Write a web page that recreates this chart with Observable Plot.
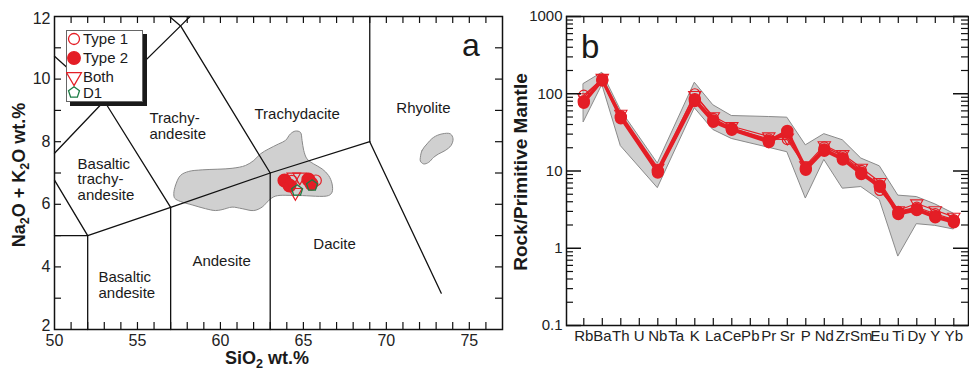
<!DOCTYPE html>
<html><head><meta charset="utf-8">
<script src="https://cdn.jsdelivr.net/npm/d3@7"></script>
<script src="https://cdn.jsdelivr.net/npm/@observablehq/plot@0.6"></script>
<style>
html,body{margin:0;padding:0;background:#fff;}
#wrap{position:relative;width:969px;height:375px;overflow:hidden;font-family:"Liberation Sans",Arial,Helvetica,sans-serif;color:#1a1a1a;}
.abs{position:absolute;white-space:nowrap;}
.lab{font-weight:bold;font-size:18px;line-height:20px;}
.lab sub{font-size:70%;vertical-align:baseline;position:relative;top:0.35em;}
</style></head><body><div id="wrap"></div>
<script>
// ================= Panel a : TAS diagram data =================
const sio2Ticks = [50, 55, 60, 65, 70, 75];
const alkaliTicks = [2, 4, 6, 8, 10, 12];

const type1Si = [64.3, 65.75];
const type1Alk = [6.75, 6.76];
const type2Si = [63.86, 64.16, 65.3, 65.48];
const type2Alk = [6.76, 6.6, 6.79, 6.66];
const bothSi = [64.42, 64.78, 64.52];
const bothAlk = [6.87, 6.87, 6.38];
const d1Si = [64.62, 65.52];
const d1Alk = [6.44, 6.6];

const fieldMainSi = [57.19,57.29,57.59,58.09,58.90,60.70,61.51,62.01,62.41,62.91,63.51,63.92,64.22,64.52,64.82,64.92,65.02,65.22,65.62,66.13,66.52,66.73,66.73,66.52,64.72,63.31,62.91,62.51,62.01,61.31,60.70,60.10,59.70,59.10,58.30,57.59,57.25];
const fieldMainAlk = [6.34,6.60,6.92,7.05,7.10,7.15,7.24,7.40,7.61,7.77,7.93,8.04,8.25,8.34,8.30,8.04,7.72,7.45,7.29,7.13,6.92,6.65,6.39,6.28,6.28,6.26,6.12,5.91,5.80,5.86,5.91,5.83,5.80,5.86,5.98,6.09,6.19];
const fieldRhySi = [72.05,72.15,72.45,72.85,73.36,73.86,74.02,73.90,73.55,73.15,72.85,72.55,72.25,72.05];
const fieldRhyAlk = [7.50,7.72,7.93,8.14,8.25,8.25,8.09,7.88,7.72,7.61,7.50,7.34,7.29,7.38];

// classification boundaries (SiO2, Na2O+K2O) per polyline
const boundaryLines = [
  [[50, 5], [52, 5]],
  [[52, 2], [52, 5]],
  [[57, 2], [57, 5.9]],
  [[63, 2], [63, 7]],
  [[52, 5], [57, 5.9], [63, 7], [69, 8]],
  [[69, 8], [69, 12]],
  [[69, 8], [73.31, 3.16]],
  [[50, 6.77], [52, 5]],
  [[50, 7.63], [53, 9.3], [57.6, 11.7], [58.17, 12]],
  [[50, 10.73], [53, 9.3], [57, 5.9]],
  [[56.93, 12], [57.6, 11.7], [63, 7]]
];

const rockNames = ["Trachy-\nandesite", "Trachydacite", "Rhyolite", "Basaltic\ntrachy-\nandesite", "Basaltic\nandesite", "Andesite", "Dacite"];
const rockSi = [55.72, 62.05, 70.60, 51.39, 52.65, 58.31, 65.60];
const rockAlk = [8.50, 8.87, 9.06, 6.79, 3.42, 4.17, 4.72];

const legendLabels = ["Type 1", "Type 2", "Both", "D1"];

// ================= Panel b : spider diagram data =================
const elements = ["Rb","Ba","Th","U","Nb","Ta","K","La","Ce","Pb","Pr","Sr","P","Nd","Zr","Sm","Eu","Ti","Dy","Y","Yb"];
const spiderTicks = [0.1, 1, 10, 100, 1000];
const fieldUpper = [134, 187, 61, null, 12.5, null, 139, 71, 51.5, null, 50, 49, 21.5, 30, 25, 14.5, 11.5, 4.8, 4.6, 3.7, 2.8];
const fieldLower = [43, 130, 21, null, 6.0, null, 65, 34, 26, null, 20, 17.5, 4.4, 13.9, 5.9, 6.2, 4.2, 0.78, 2.05, 1.95, 1.75];
const type2A = [80, 152, 50, null, 10, null, 85, 45, 35, null, 24.5, 33, 10.8, 19, 14.6, 9.5, 6.5, 2.9, 3.2, 2.6, 2.25];
const type2B = [76, 148, 48, null, 9.5, null, 80, 43, 34, null, 23.5, 31, 10.3, 18.2, 14, 9.1, 6.2, 2.75, 3.1, 2.5, 2.15];
const type1 = [96, 155, 52, null, 10.4, null, 100, 48, 36, null, 26, 25.5, 11.2, 20.5, 15.8, 10.2, 5.6, 3.0, 3.4, 2.8, 2.35];
const both = [90, 160, 55, null, 11, null, 96, 51, 38, null, 28, 27, 11.8, 21.5, 16.5, 11, 7.2, 3.1, 3.8, 3.1, 2.55];

// ================= styles =================
const RED = "#e41e26", GREEN = "#1b7c45", GREYFILL = "#d0d0d0", GREYLINE = "#8a8a8a", INK = "#111";
const FONT = '"Liberation Sans", Arial, Helvetica, sans-serif';

const triDown = { draw(ctx, size) {
  const y = -Math.sqrt(size / (Math.sqrt(3) * 3));
  ctx.moveTo(0, -y * 2); ctx.lineTo(-Math.sqrt(3) * y, y); ctx.lineTo(Math.sqrt(3) * y, y); ctx.closePath();
}};
const pentagon = { draw(ctx, size) {
  const R = Math.sqrt(size / (2.5 * Math.sin(2 * Math.PI / 5)));
  for (let k = 0; k < 5; k++) {
    const a = -Math.PI / 2 + k * 2 * Math.PI / 5;
    const px = R * Math.cos(a), py = R * Math.sin(a);
    k ? ctx.lineTo(px, py) : ctx.moveTo(px, py);
  }
  ctx.closePath();
}};

const wrap = document.getElementById("wrap");
const pts = (xs, ys) => xs.map((x, i) => ({x, y: ys[i]}));

// ---------- Panel a ----------
const A = {w: 505, h: 375, ml: 54, mr: 3, mt: 16, mb: 46, x0: 50, x1: 77, y0: 2, y1: 12};
const aKx = (A.x1 - A.x0) / (A.w - A.ml - A.mr);
const aKy = (A.y1 - A.y0) / (A.h - A.mt - A.mb);
const aTickLen = 7;
const aXt = d3.range(A.x0 + 1, A.x1);
const aYt = d3.range(A.y0 + 1, A.y1);
const lineRows = boundaryLines.flatMap((l, k) => l.map(([x, y]) => ({x, y, k})));
const rockRows = rockNames.map((t, i) => ({t, x: rockSi[i], y: rockAlk[i]}));
const yLab = {text: d => String(d), frameAnchor: "left", textAnchor: "end", dx: -4, fontSize: 16, fill: "#222"};

const plotA = Plot.plot({
  width: A.w, height: A.h,
  marginLeft: A.ml, marginRight: A.mr, marginTop: A.mt, marginBottom: A.mb,
  x: {domain: [A.x0, A.x1], ticks: sio2Ticks, tickFormat: d => String(d), tickSize: 0, tickPadding: 5, label: null},
  y: {domain: [A.y0, A.y1], axis: null},
  style: {fontFamily: FONT, fontSize: "16px", color: "#222", background: "transparent"},
  marks: [
    Plot.line(pts(fieldMainSi, fieldMainAlk), {x: "x", y: "y", curve: "catmull-rom-closed", fill: GREYFILL, stroke: GREYLINE, strokeWidth: 1}),
    Plot.line(pts(fieldRhySi, fieldRhyAlk), {x: "x", y: "y", curve: "catmull-rom-closed", fill: GREYFILL, stroke: GREYLINE, strokeWidth: 1}),
    Plot.line(lineRows, {x: "x", y: "y", z: "k", stroke: INK, strokeWidth: 1.3}),
    Plot.text(rockRows, {x: "x", y: "y", text: "t", textAnchor: "start", lineAnchor: "middle", lineHeight: 1.02, fontSize: 15, fill: "#1a1a1a"}),
    Plot.dot(pts(type2Si, type2Alk), {x: "x", y: "y", r: 6.3, fill: RED, stroke: RED}),
    Plot.dot(pts(type1Si, type1Alk), {x: "x", y: "y", r: 5.5, fill: "none", stroke: RED, strokeWidth: 1.2}),
    Plot.dot(pts(bothSi, bothAlk), {x: "x", y: "y", r: 5, symbol: triDown, fill: "none", stroke: RED, strokeWidth: 1.2}),
    Plot.dot(pts(d1Si, d1Alk), {x: "x", y: "y", r: 5, symbol: pentagon, fill: "none", stroke: GREEN, strokeWidth: 1.3}),
    // y tick labels (end labels nudged inside like the reference)
    Plot.text(alkaliTicks.filter(d => d > A.y0 && d < A.y1), {y: d => d, ...yLab}),
    Plot.text(alkaliTicks.filter(d => d === A.y0), {y: d => d, ...yLab, dy: -4}),
    Plot.text(alkaliTicks.filter(d => d === A.y1), {y: d => d, ...yLab, dy: 2}),
    // inward ticks on all four sides
    Plot.ruleX(aXt, {x: d => d, y1: A.y0, y2: A.y0 + aTickLen * aKy, stroke: INK, strokeWidth: 1.2}),
    Plot.ruleX(aXt, {x: d => d, y1: A.y1 - aTickLen * aKy, y2: A.y1, stroke: INK, strokeWidth: 1.2}),
    Plot.ruleY(aYt, {y: d => d, x1: A.x0, x2: A.x0 + aTickLen * aKx, stroke: INK, strokeWidth: 1.2}),
    Plot.ruleY(aYt, {y: d => d, x1: A.x1 - aTickLen * aKx, x2: A.x1, stroke: INK, strokeWidth: 1.2}),
    Plot.frame({stroke: INK, strokeWidth: 1.5})
  ]
});
plotA.style.position = "absolute"; plotA.style.left = "0px"; plotA.style.top = "0px";
wrap.appendChild(plotA);

// ---------- Panel b ----------
const B = {left: 505, w: 464, h: 375, ml: 61, mr: 1, mt: 16, mb: 50};
const bXdom = [-0.935, 20.795];
const bKx = (bXdom[1] - bXdom[0]) / (B.w - B.ml - B.mr);
const bDecPx = (B.h - B.mt - B.mb) / 4;
const rowsOf = vals => elements.map((e, i) => ({i, v: vals[i]})).filter(d => d.v != null);
const bandRows = elements.map((e, i) => ({i, lo: fieldLower[i], hi: fieldUpper[i]})).filter(d => d.lo != null);
const minorLog = [0.1, 1, 10, 100].flatMap(d => d3.range(2, 10).map(m => d * m));
const idx = elements.map((e, i) => i);
const majLen = 15, minLen = 7, xLen = 7;

const plotB = Plot.plot({
  width: B.w, height: B.h,
  marginLeft: B.ml, marginRight: B.mr, marginTop: B.mt, marginBottom: B.mb,
  x: {domain: bXdom, ticks: idx, tickFormat: i => elements[i], tickSize: 0, tickPadding: 5, label: null},
  y: {type: "log", domain: [0.1, 1000], ticks: spiderTicks, tickFormat: d => String(d), tickSize: 0, tickPadding: 4, label: null},
  style: {fontFamily: FONT, fontSize: "15px", color: "#222", background: "transparent"},
  marks: [
    Plot.areaY(bandRows, {x: "i", y1: "lo", y2: "hi", fill: GREYFILL, stroke: GREYLINE, strokeWidth: 1}),
    Plot.line(rowsOf(both), {x: "i", y: "v", stroke: RED, strokeWidth: 1.2}),
    Plot.line(rowsOf(type1), {x: "i", y: "v", stroke: RED, strokeWidth: 1.2}),
    Plot.line(rowsOf(type2B), {x: "i", y: "v", stroke: RED, strokeWidth: 2.5}),
    Plot.line(rowsOf(type2A), {x: "i", y: "v", stroke: RED, strokeWidth: 3}),
    Plot.dot(rowsOf(both), {x: "i", y: "v", r: 4.6, symbol: triDown, fill: "none", stroke: RED, strokeWidth: 1.1}),
    Plot.dot(rowsOf(type1), {x: "i", y: "v", r: 5, fill: "none", stroke: RED, strokeWidth: 1.2}),
    Plot.dot(rowsOf(type2B), {x: "i", y: "v", r: 5.3, fill: RED, stroke: RED}),
    Plot.dot(rowsOf(type2A), {x: "i", y: "v", r: 5.5, fill: RED, stroke: RED}),
    // inward ticks
    Plot.ruleY(spiderTicks, {y: d => d, x1: bXdom[0], x2: bXdom[0] + majLen * bKx, stroke: INK, strokeWidth: 1.5}),
    Plot.ruleY(minorLog, {y: d => d, x1: bXdom[0], x2: bXdom[0] + minLen * bKx, stroke: INK, strokeWidth: 1.2}),
    Plot.ruleY(spiderTicks, {y: d => d, x1: bXdom[1] - majLen * bKx, x2: bXdom[1], stroke: INK, strokeWidth: 1.5}),
    Plot.ruleY(minorLog, {y: d => d, x1: bXdom[1] - minLen * bKx, x2: bXdom[1], stroke: INK, strokeWidth: 1.2}),
    Plot.ruleX(idx, {x: d => d, y1: 0.1, y2: 0.1 * Math.pow(10, xLen / bDecPx), stroke: INK, strokeWidth: 1.2}),
    Plot.ruleX(idx, {x: d => d, y1: 1000 / Math.pow(10, xLen / bDecPx), y2: 1000, stroke: INK, strokeWidth: 1.2}),
    Plot.frame({stroke: INK, strokeWidth: 1.5})
  ]
});
plotB.style.position = "absolute"; plotB.style.left = B.left + "px"; plotB.style.top = "0px";
wrap.appendChild(plotB);

// ---------- HTML text: axis titles, panel letters ----------
function addDiv(html, css, cls) {
  const d = document.createElement("div");
  d.className = "abs " + (cls || "");
  d.innerHTML = html;
  d.style.cssText += css;
  wrap.appendChild(d);
  return d;
}
addDiv("SiO<sub>2</sub> wt.%", "left:267px;top:359px;transform:translate(-50%,-50%);", "lab");
addDiv("Na<sub>2</sub>O + K<sub>2</sub>O wt.%", "left:20px;top:175px;transform:translate(-50%,-50%) rotate(-90deg);", "lab");
addDiv("Rock/Primitive Mantle", "left:521px;top:172px;transform:translate(-50%,-50%) rotate(-90deg);font-size:19px;", "lab");
addDiv("a", "left:462px;top:27px;font-size:32px;line-height:1.15;color:#1a1a1a;");
addDiv("b", "left:581px;top:28px;font-size:33px;line-height:1.15;color:#1a1a1a;");

// ---------- Legend (panel a) ----------
const lg = {left: 66, top: 30, w: 75, h: 70};
addDiv("", `left:${lg.left}px;top:${lg.top}px;width:${lg.w}px;height:${lg.h}px;border:1px solid #666;background:#fff;box-shadow:4px 4px 0 #1a1a1a;`);
const legendRowY = [39, 58, 77, 92.5];
const legendSym = [
  {type: d3.symbolCircle, size: Math.PI * 5.5 * 5.5, fill: "none", stroke: RED},
  {type: d3.symbolCircle, size: Math.PI * 6.3 * 6.3, fill: RED, stroke: RED},
  {type: triDown, size: Math.PI * 5.5 * 5.5, fill: "none", stroke: RED},
  {type: pentagon, size: Math.PI * 5 * 5, fill: "none", stroke: GREEN}
];
const svgL = d3.select(wrap).append("svg").attr("class", "abs")
  .style("left", lg.left + "px").style("top", lg.top + "px").attr("width", lg.w).attr("height", lg.h);
legendLabels.forEach((t, i) => {
  const s = legendSym[i];
  svgL.append("path").attr("d", d3.symbol(s.type, s.size)())
    .attr("transform", `translate(${74 - lg.left},${legendRowY[i] - lg.top})`)
    .attr("fill", s.fill).attr("stroke", s.stroke).attr("stroke-width", 1.3);
  addDiv(t, `left:83px;top:${legendRowY[i] - 9}px;font-size:15px;line-height:18px;color:#1a1a1a;`);
});
</script></body></html>
